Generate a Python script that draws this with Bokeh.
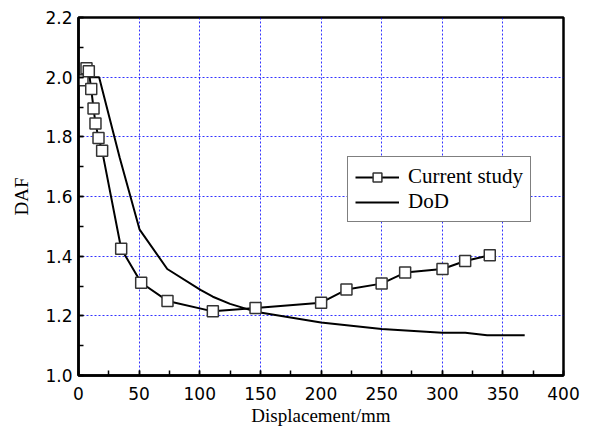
from bokeh.plotting import figure
from bokeh.models import Range1d, SingleIntervalTicker, Legend, LegendItem, NumeralTickFormatter
from bokeh.embed import file_html
from bokeh.resources import INLINE

# Current study data
cs_x = [3.3, 6.6, 8.5, 10.5, 12.4, 14.0, 16.5, 19.5, 35.2, 51.7, 73.4, 110.8, 146.0, 200.1, 221.0, 250.0, 269.4, 300.2, 318.9, 339.2]
cs_y = [1.99, 2.03, 2.02, 1.96, 1.895, 1.845, 1.796, 1.753, 1.425, 1.311, 1.25, 1.215, 1.226, 1.244, 1.288, 1.308, 1.345, 1.357, 1.384, 1.403]

# DoD data
dod_x = [2, 17, 34, 50.3, 73.2, 100.6, 110.8, 125, 146, 200, 250, 300, 319, 337, 368]
dod_y = [2.0, 2.0, 1.73, 1.49, 1.357, 1.287, 1.264, 1.24, 1.214, 1.178, 1.156, 1.143, 1.143, 1.135, 1.135]

x_label = "Displacement/mm"
y_label = "DAF"
series_names = ["Current study", "DoD"]

p = figure(width=583, height=428, output_backend="svg", toolbar_location=None,
           x_range=Range1d(0, 400), y_range=Range1d(1.0, 2.2),
           min_border_left=78, min_border_right=20, min_border_top=17, min_border_bottom=53)

p.background_fill_color = "white"
p.border_fill_color = "white"
p.outline_line_color = "black"
p.outline_line_width = 2.5

dod = p.line(dod_x, dod_y, line_color="black", line_width=2)
cs_line = p.line(cs_x, cs_y, line_color="black", line_width=2)
cs_pts = p.scatter(cs_x, cs_y, marker="square", size=11, fill_color="white",
                   line_color="#333333", line_width=1.5)

p.xaxis.ticker = SingleIntervalTicker(interval=50, num_minor_ticks=2)
p.yaxis.ticker = SingleIntervalTicker(interval=0.2, num_minor_ticks=2)
p.yaxis.formatter = NumeralTickFormatter(format="0.0")

for ax in [p.xaxis[0], p.yaxis[0]]:
    ax.axis_line_width = 2.5
    ax.axis_line_color = "black"
    ax.major_tick_in = 5
    ax.major_tick_out = 0
    ax.minor_tick_in = 5
    ax.minor_tick_out = 0
    ax.major_tick_line_width = 1.5
    ax.minor_tick_line_width = 1.5
    ax.major_label_text_font = "DejaVu Sans"
    ax.major_label_text_font_size = "17px"
    ax.major_label_text_color = "black"
    ax.axis_label_text_font = "Liberation Serif"
    ax.axis_label_text_font_size = "19px"
    ax.axis_label_text_font_style = "normal"
    ax.axis_label_text_color = "black"

p.xaxis.axis_label = x_label
p.yaxis.axis_label = y_label
p.xaxis.major_label_standoff = 11
p.xaxis.axis_label_standoff = 2
p.yaxis.major_label_standoff = 6
p.yaxis.axis_label_standoff = 10

for g in [p.xgrid[0], p.ygrid[0]]:
    g.grid_line_color = "blue"
    g.grid_line_width = 1
    g.grid_line_dash = "2 2"
    g.grid_line_alpha = 0.8

legend = Legend(items=[LegendItem(label=series_names[0], renderers=[cs_line, cs_pts]),
                       LegendItem(label=series_names[1], renderers=[dod])],
                location=(269, 153))
legend.label_text_font = "Liberation Serif"
legend.label_text_font_size = "21px"
legend.label_text_color = "black"
legend.border_line_color = "black"
legend.border_line_width = 1.5
legend.background_fill_alpha = 1
legend.glyph_width = 44
legend.glyph_height = 22
legend.label_height = 22
legend.spacing = 0
legend.padding = 7
legend.margin = 0
legend.label_standoff = 9
p.add_layout(legend)

open("out.html", "w").write(file_html(p, INLINE))
